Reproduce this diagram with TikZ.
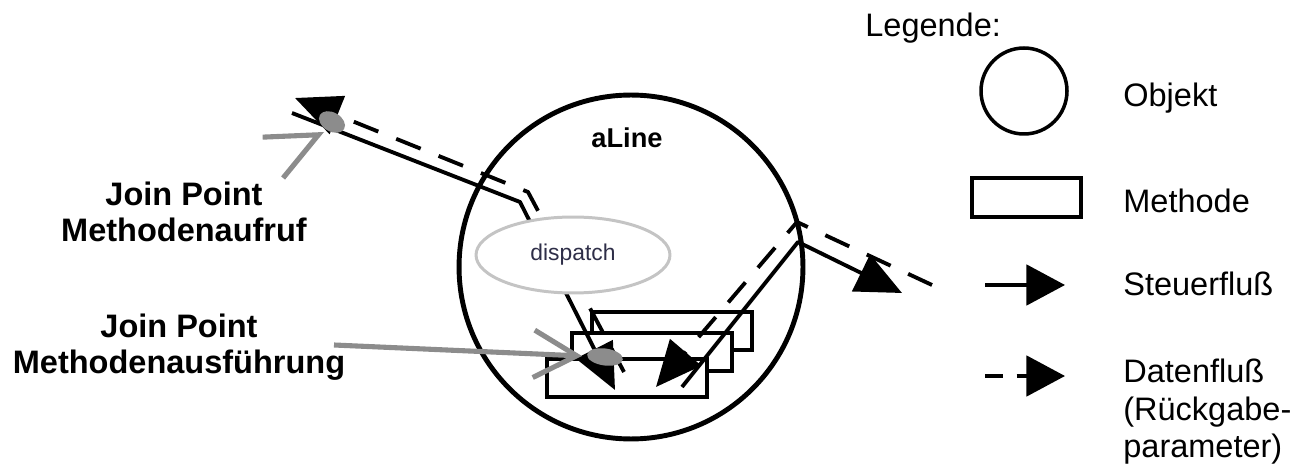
\documentclass[tikz,border=0pt]{standalone}
\usepackage{fontspec}
\setmainfont{Liberation Sans}
\usepackage{xcolor}
\usepackage{tikz}
\usetikzlibrary{arrows.meta,shapes.geometric,calc}
\definecolor{ink}{HTML}{000000}
\definecolor{jpgray}{HTML}{8C8C8C}
\definecolor{displine}{HTML}{C4C4C4}
\definecolor{disptext}{HTML}{2E2E48}
\tikzset{
  objCircle/.style={circle, draw=ink, line width=2.8pt, inner sep=0pt},
  methodBox/.style={rectangle, draw=ink, fill=white, line width=2.3pt, inner sep=0pt,
    minimum width=3.2cm, minimum height=0.76cm},
  dispBubble/.style={ellipse, draw=displine, fill=white, line width=1.7pt, inner sep=0pt,
    minimum width=3.88cm, minimum height=1.52cm, text=disptext, font=\fontsize{13}{15}\selectfont},
  ctrlFlow/.style={draw=ink, line width=2.2pt, line join=round, -{Triangle[length=26pt, width=23pt]}},
  dataFlow/.style={ctrlFlow, dash pattern=on 15pt off 11pt},
  legTip/.style={-{Triangle[length=22pt, width=23pt]}},
  jpArrow/.style={draw=jpgray, line width=2.9pt},
  jpBlob/.style={ellipse, fill=jpgray, inner sep=0pt},
  jpLbl/.style={font=\fontsize{18.5}{20}\selectfont\bfseries, align=center, inner sep=0pt},
  legLbl/.style={font=\fontsize{18.5}{21.3}\selectfont, align=left, inner sep=0pt},
}

\begin{document}
\begin{tikzpicture}[x=0.02cm, y=-0.02cm]
  \useasboundingbox (0,0) rectangle (1294,469);

  % object with its stacked methods
  \node[objCircle, minimum size=6.88cm] (aLine) at (631,267) {};
  \node[font=\fontsize{15.5}{18}\selectfont\bfseries, anchor=base, inner sep=0pt] (aLineLbl) at (627,148) {aLine};
  \node[methodBox] (m1) at (672,331) {};
  \node[methodBox] (m2) at (652,352) {};
  \node[methodBox] (m3) at (627,378) {};

  % bends and ends of the four flows
  \coordinate (callFrom) at (292,113);
  \coordinate (callBend) at (520,202);
  \coordinate (callTo)   at (615,390);
  \coordinate (retFrom)  at (624,372);
  \coordinate (retBend)  at (528,192);
  \coordinate (retTo)    at (295,98);
  \coordinate (outFrom)  at (682,387);
  \coordinate (outBend)  at (798,242);
  \coordinate (outTo)    at (902,293);
  \coordinate (inFrom)   at (932,285);
  \coordinate (inBend)   at (797,222);
  \coordinate (inTo)     at (656,387);

  \draw[ctrlFlow] (callFrom) -- (callBend) -- (callTo);
  \draw[dataFlow] (retFrom) -- (retBend) -- (retTo);
  \draw[ctrlFlow] (outFrom) -- (outBend) -- (outTo);
  \draw[dataFlow] (inFrom) -- (inBend) -- (inTo);

  % dispatch covers the call on its way in
  \node[dispBubble] (disp) at (573,255) {dispatch};

  % join points
  \node[jpBlob, minimum width=0.56cm, minimum height=0.38cm, rotate=-30] (jpCall) at (332,122) {};
  \node[jpBlob, minimum width=0.72cm, minimum height=0.34cm, rotate=-8] (jpExec) at (605,357) {};
  \node[jpLbl, anchor=north] (jpCallLbl) at (184,182) {Join Point\\Methodenaufruf};
  \node[jpLbl, anchor=north] (jpExecLbl) at (179,314) {Join Point\\Methodenausführung};
  \coordinate (jpCallTip)  at (324,132);
  \coordinate (jpExecFrom) at (334,345);
  \coordinate (jpExecTip)  at (582,356);
  \draw[jpArrow, -{Straight Barb[length=29pt, width=26pt]}] ($(jpCallTip)+(-6,3)$) -- (jpCallTip);
  \draw[jpArrow, -{Straight Barb[length=24.5pt, width=27pt]}] (jpExecFrom) -- (jpExecTip);

  % legend
  \node[legLbl, anchor=base west] (legTitle) at (865,37) {Legende:};
  \node[objCircle, line width=2pt, minimum size=1.72cm] (legObj) at (1024,91) {};
  \node[methodBox, minimum width=2.18cm, minimum height=0.78cm] (legMeth) at (1026.5,197.5) {};
  \coordinate (legCtrlA) at (985,285);
  \coordinate (legCtrlB) at (1065,285);
  \coordinate (legDataA) at (985,376);
  \coordinate (legDataB) at (1065,376);
  \draw[ctrlFlow, legTip] (legCtrlA) -- (legCtrlB);
  \draw[ctrlFlow, legTip, dash pattern=on 10pt off 8pt] (legDataA) -- (legDataB);

  \node[legLbl, anchor=base west] (legObjTxt)  at (1123,107) {Objekt};
  \node[legLbl, anchor=base west] (legMethTxt) at (1123,213) {Methode};
  \node[legLbl, anchor=base west] (legCtrlTxt) at (1123,296) {Steuerfluß};
  \node[legLbl, anchor=north west] (legDataTxt) at (1123,359) {Datenfluß\\(Rückgabe-\\parameter)};
\end{tikzpicture}
\end{document}
